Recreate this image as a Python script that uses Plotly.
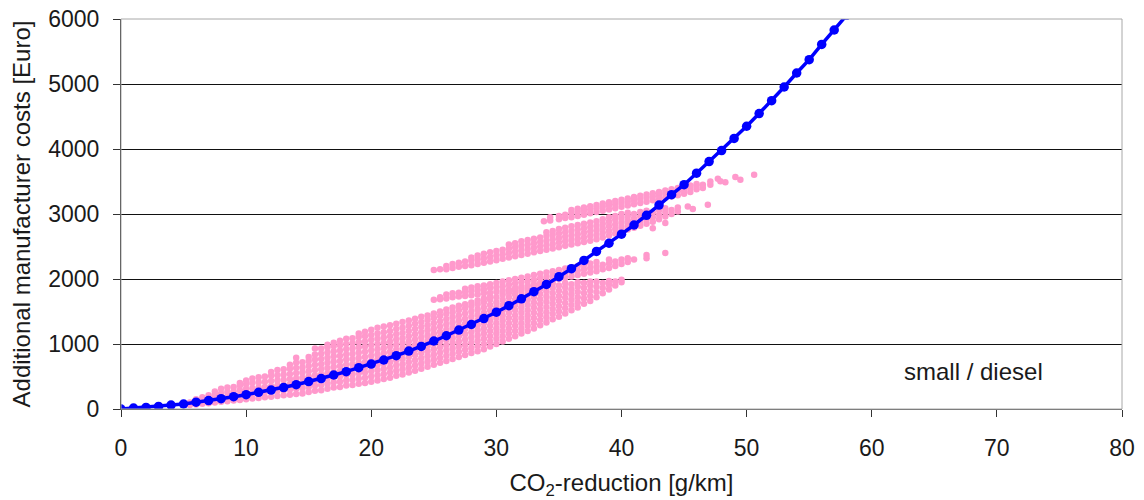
import plotly.graph_objects as go

# ---- cost curve (blue), read at every 1 g/km ----
curve_x = list(range(0, 59))
curve_y = [0, 15, 25, 40, 60, 77, 105, 130, 158, 189,
           220, 256, 292, 330, 374, 422, 468, 523, 574, 635,
           692, 754, 820, 892, 963, 1046, 1127, 1215, 1300, 1391,
           1489, 1590, 1695, 1805, 1917, 2035, 2158, 2286, 2425, 2550,
           2690, 2831, 2979, 3138, 3297, 3451, 3628, 3807, 3976, 4163,
           4350, 4545, 4743, 4954, 5169, 5375, 5609, 5831, 6060]

# ---- individual technology combinations (pink), read column by column ----
main_cloud = [
    (5.5, [60, 100]), (6, [70, 120, 150]), (6.5, [80, 130, 180]), (7, [90, 150, 210]),
    (7.5, [100, 160, 220, 270]), (8, [110, 170, 240, 310]), (8.5, [120, 190, 260, 330]),
    (9, [130, 200, 270, 340]), (9.5, [140, 210, 290, 360, 400]), (10, [150, 230, 310, 380, 440]),
    (10.5, [160, 240, 320, 400, 470]), (11, [170, 250, 330, 410, 490]),
    (11.5, [180, 260, 340, 420, 500]), (12, [190, 270, 350, 430, 510, 570]),
    (12.5, [200, 280, 360, 440, 520, 600]), (13, [210, 290, 370, 450, 530, 610]),
    (13.5, [220, 300, 380, 460, 540, 620, 680]), (14, [230, 310, 390, 470, 550, 630, 710, 790]),
    (14.5, [240, 320, 400, 480, 560, 640, 720]), (15, [260, 340, 420, 500, 580, 660, 740, 800]),
    (15.5, [280, 360, 440, 520, 600, 680, 760, 840, 930]),
    (16, [290, 370, 450, 530, 610, 690, 770, 850, 930]),
    (16.5, [310, 390, 470, 550, 630, 710, 790, 870, 950, 990]),
    (17, [330, 410, 490, 570, 650, 730, 810, 890, 970, 1020]),
    (17.5, [340, 420, 500, 580, 660, 740, 820, 900, 980, 1050]),
    (18, [360, 440, 520, 600, 680, 760, 840, 920, 1000, 1080]),
    (18.5, [370, 450, 530, 610, 690, 770, 850, 930, 1010, 1090]),
    (19, [390, 470, 550, 630, 710, 790, 870, 950, 1030, 1110, 1160]),
    (19.5, [400, 480, 560, 640, 720, 800, 880, 960, 1040, 1120, 1190]),
    (20, [420, 500, 580, 660, 740, 820, 900, 980, 1060, 1140, 1220]),
    (20.5, [440, 520, 600, 680, 760, 840, 920, 1000, 1080, 1160, 1250]),
    (21, [460, 540, 620, 700, 780, 860, 940, 1020, 1100, 1180, 1270]),
    (21.5, [480, 560, 640, 720, 800, 880, 960, 1040, 1120, 1200, 1290]),
    (22, [510, 590, 670, 750, 830, 910, 990, 1070, 1150, 1230, 1310]),
    (22.5, [530, 610, 690, 770, 850, 930, 1010, 1090, 1170, 1250, 1340]),
    (23, [560, 640, 720, 800, 880, 960, 1040, 1120, 1200, 1280, 1360]),
    (23.5, [590, 670, 750, 830, 910, 990, 1070, 1150, 1230, 1310, 1390]),
    (24, [620, 700, 780, 860, 940, 1020, 1100, 1180, 1260, 1340, 1420]),
    (24.5, [650, 730, 810, 890, 970, 1050, 1130, 1210, 1290, 1370, 1440]),
    (25, [680, 760, 840, 920, 1000, 1080, 1160, 1240, 1320, 1400, 1470]),
    (25.5, [710, 790, 870, 950, 1030, 1110, 1190, 1270, 1350, 1430, 1500]),
    (26, [740, 820, 900, 980, 1060, 1140, 1220, 1300, 1380, 1460, 1530]),
    (26.5, [770, 850, 930, 1010, 1090, 1170, 1250, 1330, 1410, 1490, 1560]),
    (27, [800, 880, 960, 1040, 1120, 1200, 1280, 1360, 1440, 1520, 1590]),
    (27.5, [830, 910, 990, 1070, 1150, 1230, 1310, 1390, 1470, 1550, 1610]),
    (28, [860, 940, 1020, 1100, 1180, 1260, 1340, 1420, 1500, 1580, 1640]),
    (28.5, [890, 970, 1050, 1130, 1210, 1290, 1370, 1450, 1530, 1610, 1670]),
    (29, [920, 1000, 1080, 1160, 1240, 1320, 1400, 1480, 1560, 1640, 1700]),
    (29.5, [960, 1040, 1120, 1200, 1280, 1360, 1440, 1520, 1600, 1680, 1730]),
    (30, [1000, 1080, 1160, 1240, 1320, 1400, 1480, 1560, 1640, 1720]),
    (30.5, [1040, 1120, 1200, 1280, 1360, 1440, 1520, 1600, 1680, 1760]),
    (31, [1080, 1160, 1240, 1320, 1400, 1480, 1560, 1640, 1720, 1790]),
    (31.5, [1120, 1200, 1280, 1360, 1440, 1520, 1600, 1680, 1760, 1820]),
    (32, [1160, 1240, 1320, 1400, 1480, 1560, 1640, 1720, 1800, 1850]),
    (32.5, [1200, 1280, 1360, 1440, 1520, 1600, 1680, 1760, 1840]),
    (33, [1240, 1320, 1400, 1480, 1560, 1640, 1720, 1800, 1880]),
    (33.5, [1290, 1370, 1450, 1530, 1610, 1690, 1770, 1850, 1910]),
    (34, [1330, 1410, 1490, 1570, 1650, 1730, 1810, 1890]),
    (34.5, [1380, 1460, 1540, 1620, 1700, 1780, 1860, 1930]),
    (35, [1420, 1500, 1580, 1660, 1740, 1820, 1900]),
    (35.5, [1470, 1550, 1630, 1710, 1790, 1870, 1940]),
    (36, [1520, 1600, 1680, 1760, 1840, 1920]),
    (36.5, [1560, 1640, 1720, 1800, 1880, 1950]),
    (37, [1620, 1700, 1780, 1860, 1940]),
    (37.5, [1660, 1740, 1820, 1900, 1960]),
    (38, [1720, 1800, 1880, 1960]), (38.5, [1780, 1860, 1940]),
    (39, [1840, 1910, 1970]), (39.5, [1900, 1960]), (40, [1950, 1990]),
]

band_low = [
    (25, [1680]), (25.5, [1690, 1720]), (26, [1700, 1760]), (26.5, [1720, 1780]),
    (27, [1730, 1790]), (27.5, [1740, 1800, 1850]), (28, [1750, 1810, 1870]),
    (28.5, [1760, 1830, 1890]), (29, [1780, 1840, 1900]), (29.5, [1790, 1860, 1920]),
    (30, [1800, 1870, 1940]), (30.5, [1820, 1890, 1960]), (31, [1840, 1910, 1980]),
    (31.5, [1860, 1930, 2000]), (32, [1880, 1950, 2020]), (32.5, [1900, 1970, 2040]),
    (33, [1920, 1990, 2060]), (33.5, [1940, 2010, 2080]), (34, [1960, 2030, 2100]),
    (34.5, [1980, 2050, 2120]), (35, [2000, 2070, 2140]), (35.5, [2020, 2090, 2160]),
    (36, [2040, 2110, 2180]), (36.5, [2060, 2130, 2200]), (37, [2080, 2150, 2220]),
    (37.5, [2100, 2170, 2240]), (38, [2120, 2190, 2260]), (38.5, [2150, 2220]),
    (39, [2170, 2240, 2300]), (39.5, [2200, 2270]), (40, [2230, 2300]),
    (40.5, [2260, 2320]), (41, [2300]), (42, [2320, 2370]), (43.5, [2400]),
]

band_mid = [
    (25, [2140]), (25.5, [2150]), (26, [2150, 2200]), (26.5, [2170, 2230]),
    (27, [2190, 2250]), (27.5, [2200, 2270]), (28, [2210, 2280, 2330]),
    (28.5, [2230, 2300, 2360]), (29, [2250, 2320, 2390]), (29.5, [2270, 2340, 2410]),
    (30, [2290, 2360, 2430]), (30.5, [2310, 2380, 2450]), (31, [2330, 2400, 2470, 2530]),
    (31.5, [2350, 2420, 2490, 2550]), (32, [2370, 2440, 2510, 2580]),
    (32.5, [2390, 2460, 2530, 2600]), (33, [2410, 2480, 2550, 2620]),
    (33.5, [2430, 2500, 2570, 2640]), (34, [2450, 2520, 2590, 2660, 2720]),
    (34.5, [2470, 2540, 2610, 2680, 2740]), (35, [2490, 2560, 2630, 2700, 2770]),
    (35.5, [2510, 2580, 2650, 2720, 2790]), (36, [2530, 2600, 2670, 2740, 2810]),
    (36.5, [2550, 2620, 2690, 2760, 2830]), (37, [2570, 2640, 2710, 2780, 2850]),
    (37.5, [2590, 2660, 2730, 2800, 2870]), (38, [2610, 2680, 2750, 2820, 2890]),
    (38.5, [2640, 2710, 2780, 2850, 2920]), (39, [2670, 2740, 2810, 2880, 2950]),
    (39.5, [2700, 2770, 2840, 2910, 2970]), (40, [2730, 2800, 2870, 2940, 3000]),
    (40.5, [2760, 2830, 2900, 2970, 3020]), (41, [2790, 2860, 2930, 3000]),
    (41.5, [2820, 2890, 2960, 3030]), (42, [2850, 2920, 2990, 3050]),
    (42.5, [2780, 2880, 2950, 3020]), (43, [2920, 2990, 3060]),
    (43.5, [2860, 2960, 3030, 3090]), (44, [3000, 3060]), (44.5, [3040, 3100]),
    (45.3, [3117]), (45.7, [3077]), (46.9, [3143]),
]

band_top = [
    (33.8, [2890]), (34.3, [2900, 2950]), (35, [2920, 2970]), (35.5, [2940, 2990]),
    (36, [2950, 3010, 3060]), (36.5, [2970, 3030, 3080]), (37, [2990, 3050, 3100]),
    (37.5, [3010, 3070, 3120]), (38, [3030, 3090, 3140]), (38.5, [3050, 3110, 3160]),
    (39, [3070, 3130, 3180]), (39.5, [3090, 3150, 3200]), (40, [3110, 3170, 3220]),
    (40.5, [3130, 3190, 3240]), (41, [3150, 3210, 3260]), (41.5, [3170, 3230, 3280]),
    (42, [3190, 3250, 3300]), (42.5, [3210, 3270, 3320]), (43, [3230, 3290, 3340]),
    (43.5, [3250, 3310, 3360]), (44, [3270, 3330, 3380]), (44.5, [3290, 3350, 3400]),
    (45, [3310, 3370, 3420]), (45.5, [3340, 3400, 3440]), (46, [3380, 3430, 3460]),
    (46.5, [3400, 3450]), (47.1, [3451, 3500]), (47.7, [3543]), (47.9, [3502]),
    (48.3, [3487]), (49.1, [3569]), (49.5, [3528]), (50.6, [3605]),
]

x_ticks = [0, 10, 20, 30, 40, 50, 60, 70, 80]
y_ticks = [0, 1000, 2000, 3000, 4000, 5000, 6000]
label_text = "small / diesel"

PINK = "#FF99CC"
BLUE = "#0000FF"
FONT = "Liberation Sans, Arial, Helvetica, sans-serif"
TXT = "#1a1a1a"

fig = go.Figure()

for band in (main_cloud, band_low, band_mid, band_top):
    xs, ys = [], []
    for cx, cys in band:
        for cy in cys:
            xs.append(cx)
            ys.append(cy)
    fig.add_trace(go.Scatter(
        x=xs, y=ys, mode="markers",
        marker=dict(color=PINK, size=6.5, line=dict(width=0)),
        showlegend=False, hoverinfo="skip"))

fig.add_trace(go.Scatter(
    x=curve_x, y=curve_y, mode="lines+markers",
    line=dict(color=BLUE, width=3.5),
    marker=dict(color=BLUE, size=9.5),
    showlegend=False))

fig.add_annotation(x=68.1, y=578, text=label_text, showarrow=False,
                   font=dict(family=FONT, size=24, color=TXT))

# light grey frame (top / right)
fig.add_shape(type="rect", xref="paper", yref="paper", x0=0, y0=0, x1=1, y1=1,
              line=dict(color="#A8A8A8", width=1), layer="above")

fig.update_layout(
    width=1144, height=500,
    margin=dict(l=121, r=22, t=19, b=91),
    paper_bgcolor="white", plot_bgcolor="white",
    font=dict(family=FONT, size=23, color=TXT),
    xaxis=dict(
        range=[0, 80], tickvals=x_ticks, showgrid=False, zeroline=False,
        automargin=False, ticklabeloverflow="allow",
        showline=True, linecolor="#555555", linewidth=1,
        ticks="outside", ticklen=7, tickcolor="#333333", ticklabelstandoff=11,
        tickfont=dict(family=FONT, size=23, color=TXT),
        title=dict(text="CO<sub>2</sub>-reduction [g/km]",
                   font=dict(family=FONT, size=24, color=TXT), standoff=17),
    ),
    yaxis=dict(
        range=[0, 6000], tickvals=y_ticks, showgrid=True, gridcolor="#111111",
        gridwidth=1, zeroline=False, automargin=False, ticklabeloverflow="allow",
        showline=True, linecolor="#222222", linewidth=1,
        ticks="outside", ticklen=7, tickcolor="#333333", ticklabelstandoff=9,
        tickfont=dict(family=FONT, size=23, color=TXT),
        title=dict(text="Additional manufacturer costs [Euro]",
                   font=dict(family=FONT, size=24, color=TXT), standoff=10),
    ),
)

# remove the browser's default page margin so the figure fills the window exactly
fig.write_html("out.html",
               config={"displayModeBar": False},
               post_script="document.body.style.margin='0';document.body.style.overflow='hidden';")
